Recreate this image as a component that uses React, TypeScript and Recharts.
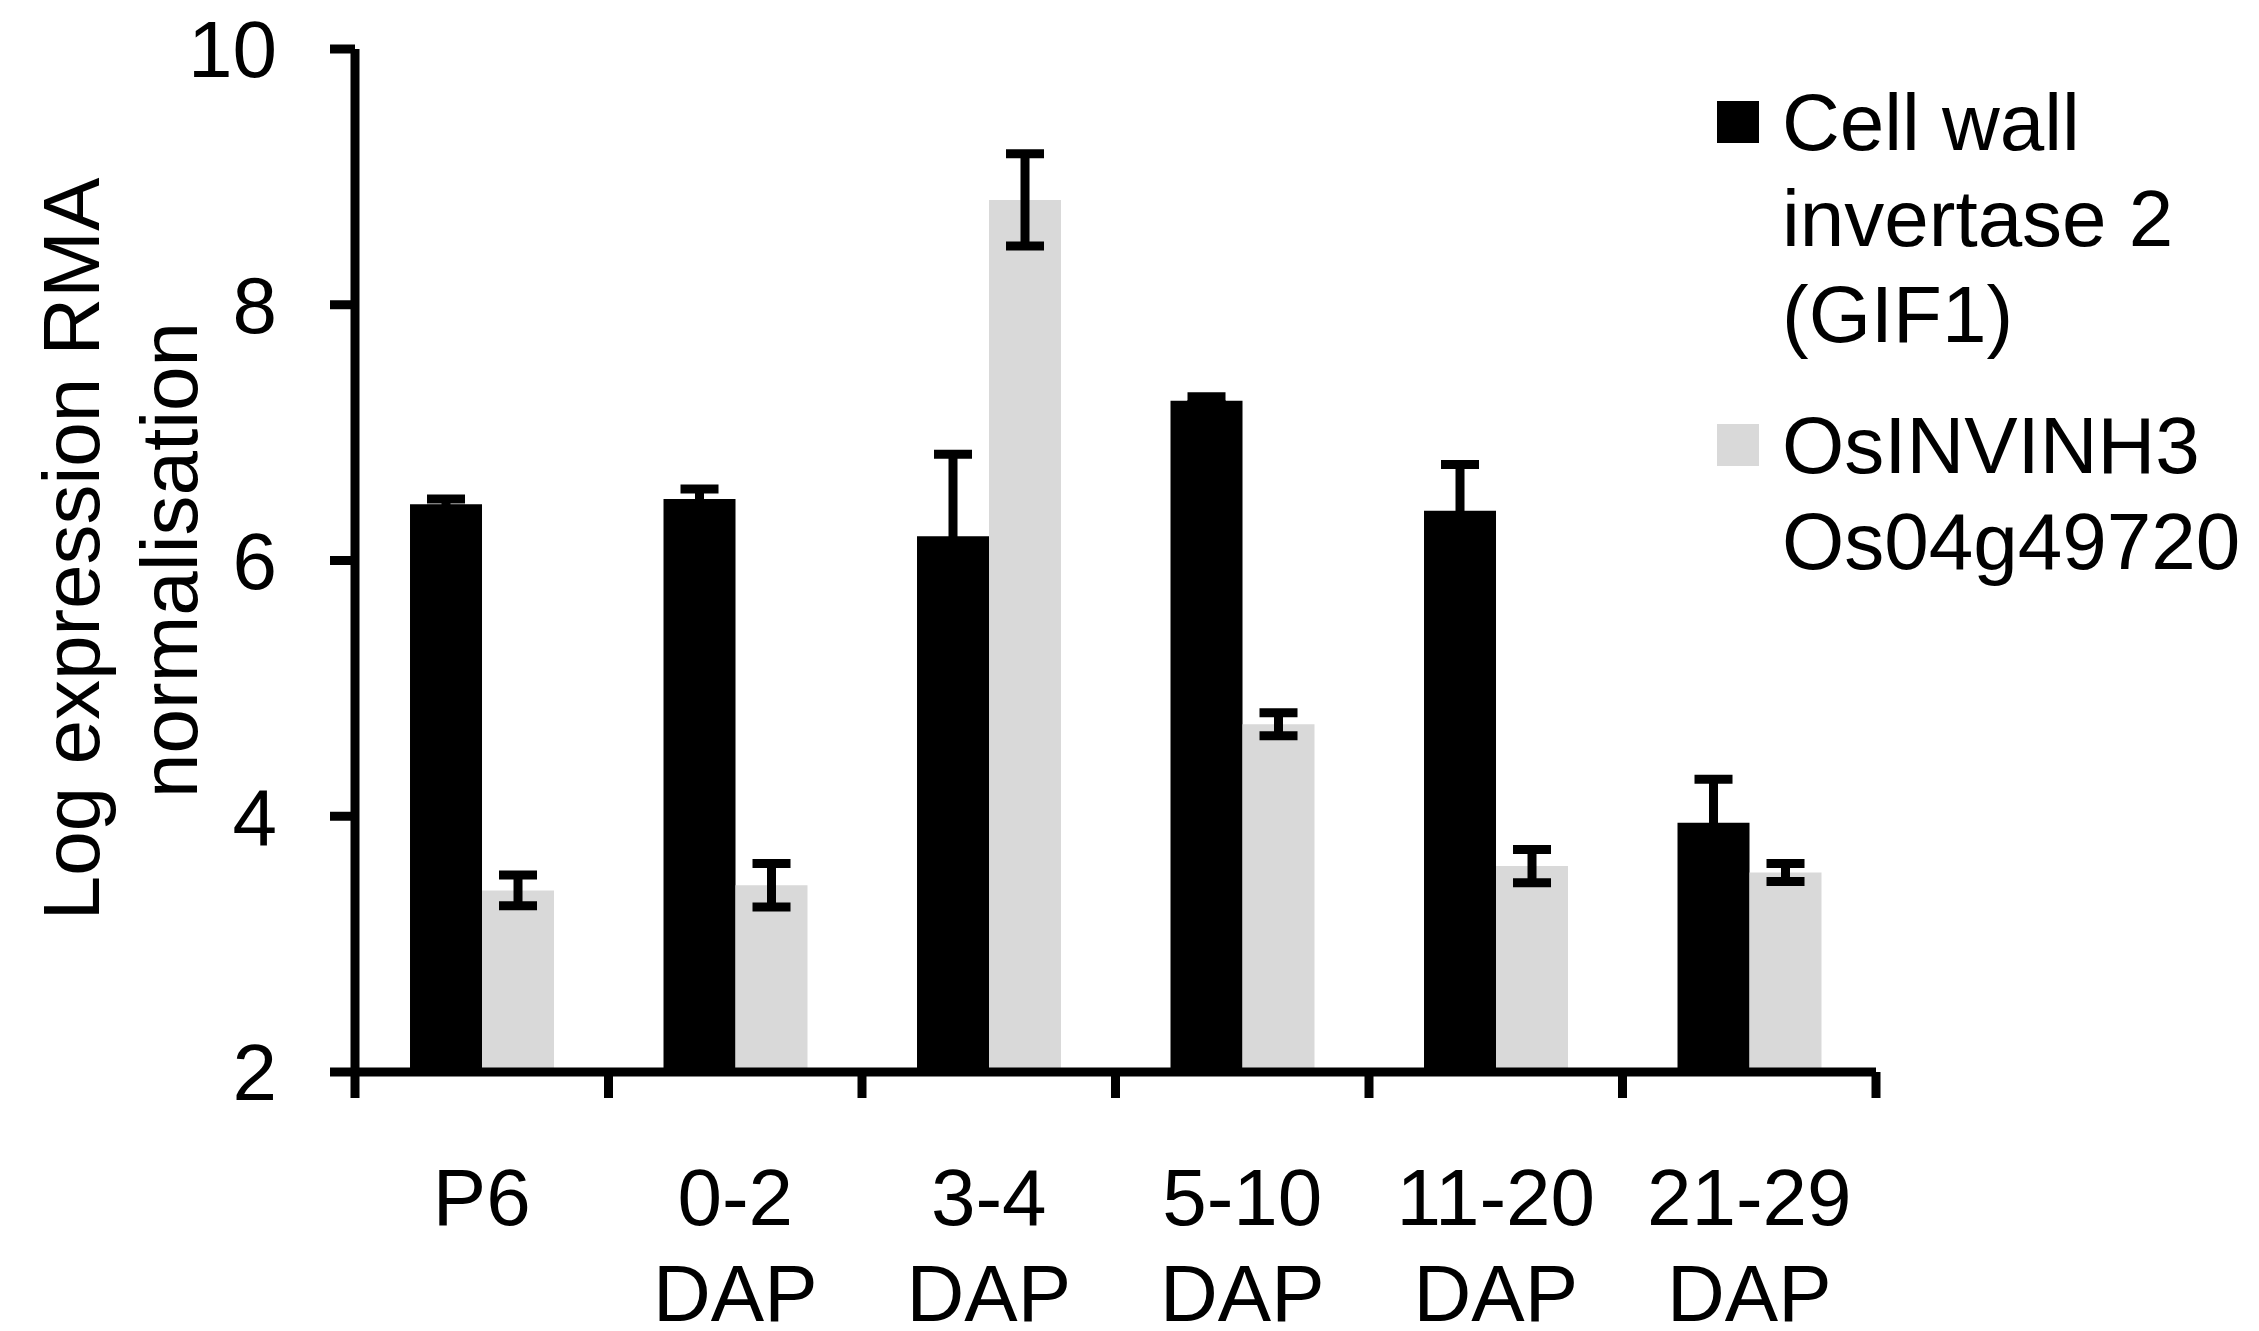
import { Bar, BarChart, ErrorBar, Legend, XAxis, YAxis } from "recharts";

// sampling stages (x axis, two text lines)
const categories = ["P6", "0-2", "3-4", "5-10", "11-20", "21-29"];
const categorySub = ["", "DAP", "DAP", "DAP", "DAP", "DAP"];

// Cell wall invertase 2 (GIF1)
const gif1 = [6.44, 6.48, 6.19, 7.25, 6.39, 3.95];
const gif1Err = [0.04, 0.08, 0.64, 0.03, 0.36, 0.34];

// OsINVINH3 Os04g49720
const invinh3 = [3.42, 3.46, 8.82, 4.72, 3.61, 3.56];
const invinh3Err = [0.12, 0.17, 0.36, 0.09, 0.13, 0.07];

const yTicks = [2, 4, 6, 8, 10];
const legendGif1 = ["Cell wall", "invertase 2", "(GIF1)"];
const legendInvinh3 = ["OsINVINH3", "Os04g49720"];
const yTitle = ["Log expression RMA", "normalisation"];

const data = categories.map((cat, i) => ({
  cat,
  gif1: gif1[i],
  gif1Err: gif1Err[i],
  invinh3: invinh3[i],
  invinh3Err: invinh3Err[i],
}));

const W = 2259;
const H = 1331;
const LEFT = 355;
const TOP = 49;
const RIGHT = 1876;
const BOTTOM = 1072;
const BAND = (RIGHT - LEFT) / categories.length;
const FONT = "'Liberation Sans', Arial, sans-serif";
const GRAY = "#d9d9d9";
const STROKE = 9;

const XTick = ({ x, payload, index }: any) => {
  const i = index ?? payload.index;
  return (
    <g>
      <line x1={x - BAND / 2} x2={x - BAND / 2} y1={BOTTOM} y2={BOTTOM + 26} stroke="#000" strokeWidth={STROKE} />
      {i === categories.length - 1 && (
        <line x1={x + BAND / 2} x2={x + BAND / 2} y1={BOTTOM} y2={BOTTOM + 26} stroke="#000" strokeWidth={STROKE} />
      )}
      <text x={x} y={1225} textAnchor="middle" fontSize={80} fontFamily={FONT} fill="#000">
        {payload.value}
      </text>
      {categorySub[i] ? (
        <text x={x} y={1321} textAnchor="middle" fontSize={80} fontFamily={FONT} fill="#000">
          {categorySub[i]}
        </text>
      ) : null}
    </g>
  );
};

const YTitle = () => (
  <g>
    <text x={99} y={549} transform="rotate(-90 99 549)" textAnchor="middle" fontSize={80} fontFamily={FONT} fill="#000">
      {yTitle[0]}
    </text>
    <text x={197} y={560} transform="rotate(-90 197 560)" textAnchor="middle" fontSize={80} fontFamily={FONT} fill="#000">
      {yTitle[1]}
    </text>
  </g>
);

const renderLegend = (props: any) => {
  const items = [
    { color: props.payload?.[0]?.color ?? "#000", lines: legendGif1 },
    { color: props.payload?.[1]?.color ?? GRAY, lines: legendInvinh3 },
  ];
  return (
    <div style={{ fontFamily: FONT, fontSize: 80, lineHeight: "96px", color: "#000" }}>
      {items.map((item, i) => (
        <div key={i} style={{ display: "flex", alignItems: "flex-start", marginTop: i ? 35 : 0 }}>
          <div style={{ width: 42, height: 42, background: item.color, marginTop: 26, marginRight: 23, flex: "none" }} />
          <div style={{ whiteSpace: "nowrap" }}>
            {item.lines.map((l) => (
              <div key={l}>{l}</div>
            ))}
          </div>
        </div>
      ))}
    </div>
  );
};

export default function App() {
  return (
    <div style={{ position: "absolute", left: 0, top: 0, width: W, height: H, background: "#fff" }}>
      <BarChart
        width={W}
        height={H}
        data={data}
        margin={{ top: TOP, right: W - RIGHT, bottom: 0, left: 0 }}
        barCategoryGap="21.7%"
        barGap={0}
      >
        <XAxis
          dataKey="cat"
          height={H - BOTTOM}
          interval={0}
          tickLine={false}
          axisLine={{ stroke: "#000", strokeWidth: STROKE }}
          tick={<XTick />}
        />
        <YAxis
          width={LEFT}
          domain={[2, 10]}
          ticks={yTicks}
          allowDataOverflow
          tickSize={25}
          tickMargin={53}
          axisLine={{ stroke: "#000", strokeWidth: STROKE }}
          tickLine={{ stroke: "#000", strokeWidth: STROKE }}
          tick={{ fontSize: 80, fontFamily: FONT, fill: "#000" }}
          label={{ content: () => <YTitle /> }}
        />
        <Legend
          layout="vertical"
          align="center"
          verticalAlign="middle"
          content={renderLegend}
          wrapperStyle={{ left: 1717, top: 75, width: 540 }}
        />
        <Bar dataKey="gif1" name="Cell wall invertase 2 (GIF1)" fill="#000" isAnimationActive={false}>
          <ErrorBar dataKey="gif1Err" width={19} strokeWidth={STROKE} stroke="#000" direction="y" />
        </Bar>
        <Bar dataKey="invinh3" name="OsINVINH3 Os04g49720" fill={GRAY} isAnimationActive={false}>
          <ErrorBar dataKey="invinh3Err" width={19} strokeWidth={STROKE} stroke="#000" direction="y" />
        </Bar>
      </BarChart>
    </div>
  );
}
